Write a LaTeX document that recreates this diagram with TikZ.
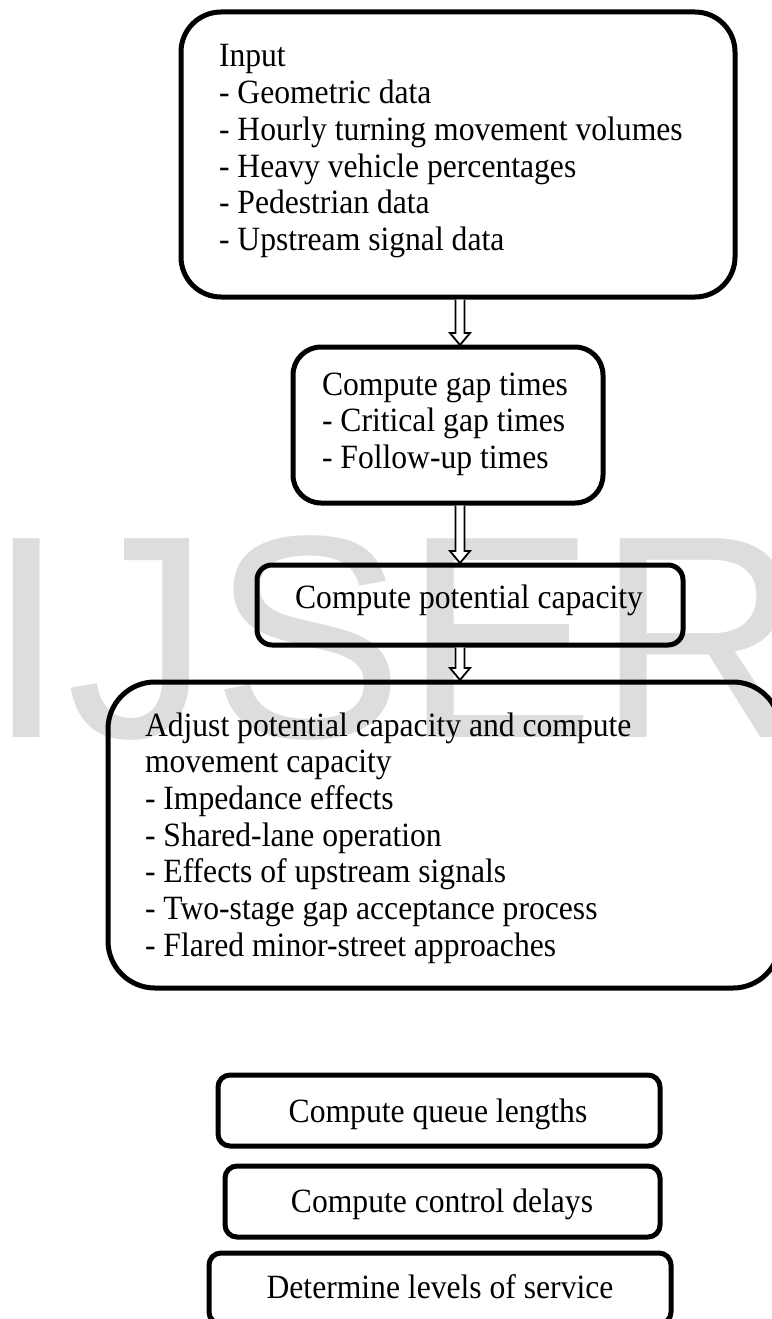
\documentclass[tikz,border=0pt]{standalone}
\usepackage{fontspec}
\setmainfont{Liberation Serif}[FakeStretch=0.93]
\newfontfamily\wmfont{Liberation Sans}
\usetikzlibrary{calc}
\definecolor{wmgray}{RGB}{221,221,221}
\newcommand\boxlines[1]{\begin{tabular}[t]{@{}l@{}}#1\end{tabular}}
\tikzset{
  box/.style={draw=black, line width=5pt, rounded corners=#1, outer sep=0pt, inner sep=0pt},
  box/.default=12pt,
  txt/.style={font=\fontsize{34}{36.7}\selectfont, inner sep=0pt, outer sep=0pt},
  ltxt/.style={txt, anchor=base west},
  ctxt/.style={txt, anchor=base},
  harrow/.style={draw=black, fill=white, line width=1.8pt, line join=miter},
  wmark/.style={anchor=base west, inner sep=0pt, text=wmgray, font=\wmfont\fontsize{289}{289}\selectfont}
}
\newcommand\blockarrow[2]{%
  \draw[harrow] ($(#1.south -| ax)+(-4.5,2.5)$) -- ($(#2.north -| ax)+(-4.5,-14)$)
    -- ($(#2.north -| ax)+(-10,-14)$) -- ($(#2.north -| ax)+(0,-2)$)
    -- ($(#2.north -| ax)+(10,-14)$) -- ($(#2.north -| ax)+(4.5,-14)$)
    -- ($(#1.south -| ax)+(4.5,2.5)$);}
\begin{document}
\begin{tikzpicture}[x=1pt,y=-1pt]
\useasboundingbox (0,0) rectangle (771,1319);
% watermark
\node[wmark] (wm) at (-14,737) {IJSER};
% boxes
\node[box=40pt, minimum width=554pt, minimum height=285pt] (b1) at (458,154.5) {};
\node[box=28pt, minimum width=310pt, minimum height=156pt] (b2) at (448,425) {};
\node[box=15pt, minimum width=426pt, minimum height=80pt] (b3) at (470,605) {};
\node[box=47pt, minimum width=672pt, minimum height=306pt] (b4) at (444,835) {};
\node[box=12pt, minimum width=442pt, minimum height=71pt] (b5) at (439,1110.5) {};
\node[box=12pt, minimum width=435pt, minimum height=71pt] (b6) at (442.5,1201.5) {};
\node[box=12pt, minimum width=462pt, minimum height=71pt] (b7) at (440,1288.5) {};
% texts
\node[ltxt] (t1) at (219,67) {\boxlines{Input\\- Geometric data\\- Hourly turning movement volumes\\- Heavy vehicle percentages\\- Pedestrian data\\- Upstream signal data}};
\node[ltxt] (t2) at (322,395) {\boxlines{Compute gap times\\- Critical gap times\\- Follow-up times}};
\node[ctxt] (t3) at (469,608) {Compute potential capacity};
\node[ltxt] (t4) at (145,736) {\boxlines{Adjust potential capacity and compute\\movement capacity\\- Impedance effects\\- Shared-lane operation\\- Effects of upstream signals\\- Two-stage gap acceptance process\\- Flared minor-street approaches}};
\node[ctxt] (t5) at (438,1122) {Compute queue lengths};
\node[ctxt] (t6) at (442,1212) {Compute control delays};
\node[ctxt] (t7) at (440,1298) {Determine levels of service};
% arrows
\coordinate (ax) at (460,0);
\blockarrow{b1}{b2}
\blockarrow{b2}{b3}
\blockarrow{b3}{b4}
\end{tikzpicture}
\end{document}
